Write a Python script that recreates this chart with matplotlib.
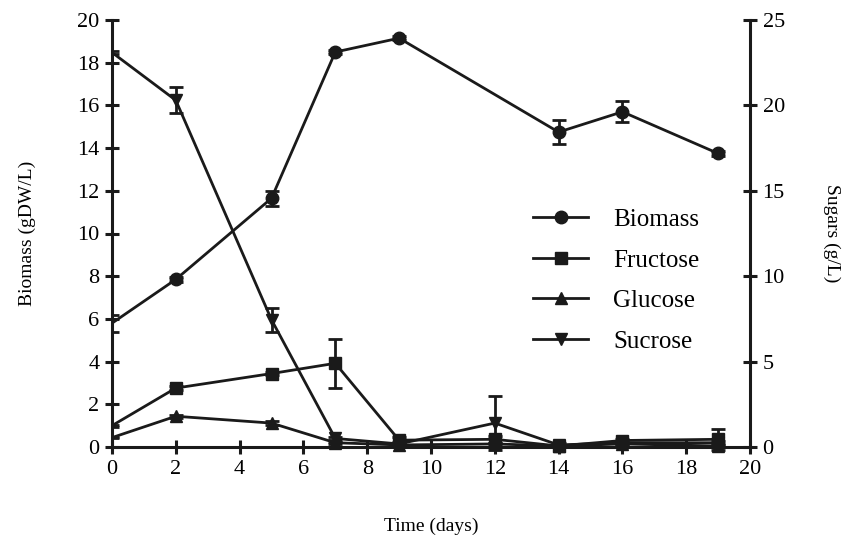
import matplotlib
matplotlib.use("Agg")
import matplotlib.pyplot as plt
from matplotlib.lines import Line2D
from matplotlib.patches import Rectangle
import numpy as np

plt.rcParams['font.family'] = ['Liberation Serif', 'DejaVu Serif']

days = [0, 2, 5, 7, 9, 12, 14, 16, 19]
biomass = [5.8, 7.85, 11.65, 18.5, 19.15, None, 14.75, 15.7, 13.75]
biomass_err = [0.4, 0.1, 0.35, 0.1, 0.1, None, 0.55, 0.5, 0.1]
# sugars in g/L (right axis)
fructose = [1.25, 3.45, 4.3, 4.9, 0.4, 0.45, 0.06, 0.38, 0.45]
fructose_err = [0.05, 0.1, 0.1, 1.45, 0.2, 0.2, 0.05, 0.1, 0.6]
glucose = [0.55, 1.8, 1.4, 0.25, 0.12, 0.18, 0.06, 0.18, 0.06]
glucose_err = [0.05, 0.1, 0.1, 0.05, 0.05, 0.05, 0.05, 0.05, 0.05]
sucrose = [23.1, 20.3, 7.45, 0.5, 0.18, 1.4, 0.12, 0.25, 0.25]
sucrose_err = [0.1, 0.75, 0.7, 0.1, 0.1, 1.6, 0.1, 0.1, 0.1]

fig = plt.figure(figsize=(8.44, 5.40), dpi=100)
ax = fig.add_axes([112/844, 1-447/540, (750-112)/844, (447-20)/540])
ax2 = ax.twinx()

col = '#1a1a1a'
ekw = dict(color=col, lw=2.0, elinewidth=2.0, capsize=5, capthick=2.0,
           markevery=slice(1, None))

def clip_artists(cont, a):
    rect = Rectangle((0, -0.1), 1.2, 1.3, transform=a.transAxes, fill=False)
    for art in cont.get_children():
        art.set_clip_on(True)
        art.set_clip_path(rect)

bd = [(d, b, e) for d, b, e in zip(days, biomass, biomass_err) if b is not None]
c1 = ax.errorbar([x[0] for x in bd], [x[1] for x in bd], yerr=[x[2] for x in bd],
                 marker='o', ms=9, zorder=5, **ekw)
clip_artists(c1, ax)
c2 = ax2.errorbar(days, fructose, yerr=fructose_err, marker='s', ms=9, **ekw)
c3 = ax2.errorbar(days, glucose, yerr=glucose_err, marker='^', ms=9, **ekw)
c4 = ax2.errorbar(days, sucrose, yerr=sucrose_err, marker='v', ms=9, **ekw)
for c in (c2, c3, c4):
    clip_artists(c, ax2)

ax.set_xlim(0, 20)
ax.set_ylim(0, 20)
ax2.set_ylim(0, 25)
ax.set_xticks(np.arange(0, 21, 2))
ax.set_yticks(np.arange(0, 21, 2))
ax2.set_yticks(np.arange(0, 26, 5))

for a in (ax, ax2):
    a.spines['top'].set_visible(False)
    for s in a.spines.values():
        s.set_linewidth(2.2)
        s.set_color(col)
    a.tick_params(direction='inout', length=10, width=2.2, labelsize=16, color=col, pad=4)
ax.spines['right'].set_visible(False)
ax2.spines['left'].set_visible(False)
ax2.spines['bottom'].set_visible(False)

ax.set_xlabel('Time (days)', fontsize=14, labelpad=28)
ax.set_ylabel('Biomass (gDW/L)', fontsize=14, labelpad=30)
ax2.set_ylabel('Sugars (g/L)', fontsize=14, rotation=270, labelpad=40)

labels = ['Biomass', 'Fructose', 'Glucose', 'Sucrose']
markers = ['o', 's', '^', 'v']
handles = [Line2D([], [], color=col, lw=2.0, marker=m, ms=9) for m in markers]
ax.legend(handles, labels, loc='upper left', bbox_to_anchor=(0.625, 0.611),
          frameon=False, fontsize=18, handlelength=2.2, labelspacing=0.72, handletextpad=1.0)

fig.savefig('out.png', dpi=100)
